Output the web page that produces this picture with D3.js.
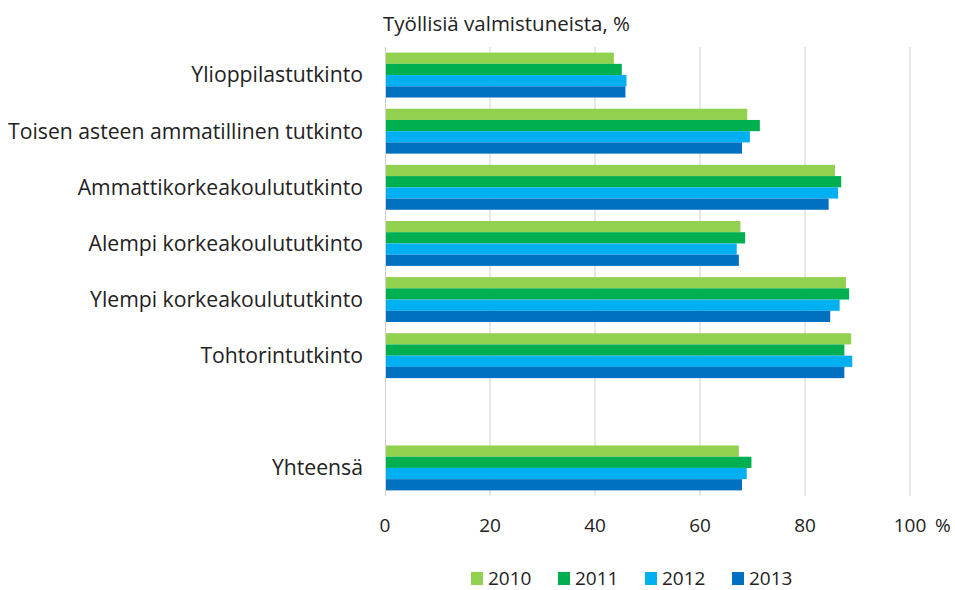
<!DOCTYPE html>
<html>
<head>
<meta charset="utf-8">
<script src="https://cdn.jsdelivr.net/npm/d3@7"></script>
<style>
  body { margin: 0; background: #fff; }
  svg text { font-family: "Open Sans", "Noto Sans", sans-serif; fill: #222; }
</style>
</head>
<body>
<div id="chart"></div>
<script>
var categories = ['Ylioppilastutkinto', 'Toisen asteen ammatillinen tutkinto', 'Ammattikorkeakoulututkinto',
                  'Alempi korkeakoulututkinto', 'Ylempi korkeakoulututkinto', 'Tohtorintutkinto', '', 'Yhteensä'];
var years = ['2010', '2011', '2012', '2013'];
var colors = ['#92d050', '#00b050', '#00b0f0', '#0070c0'];
var v2010 = [43.6, 69.0, 85.7, 67.7, 87.8, 88.8, null, 67.4];
var v2011 = [45.1, 71.4, 86.9, 68.6, 88.4, 87.5, null, 69.8];
var v2012 = [46.0, 69.5, 86.3, 67.0, 86.6, 89.0, null, 68.9];
var v2013 = [45.8, 68.0, 84.5, 67.4, 84.8, 87.5, null, 68.0];
var series = [v2010, v2011, v2012, v2013];
var xTicks = [0, 20, 40, 60, 80, 100];

var width = 955, height = 590;
var plotLeft = 385, plotRight = 910, plotTop = 47, plotBottom = 496;

var svg = d3.select("#chart").append("svg")
    .attr("width", width)
    .attr("height", height);

var x = d3.scaleLinear().domain([0, 100]).range([plotLeft, plotRight]);
var y = d3.scaleBand().domain(d3.range(categories.length)).range([plotTop, plotBottom]).paddingInner(0.2).paddingOuter(0.1);
var y1 = d3.scaleBand().domain(d3.range(years.length)).range([0, y.bandwidth()]);

// gridlines
svg.append("g").selectAll("line")
    .data(xTicks.slice(1))
    .enter().append("line")
    .attr("x1", function(d) { return x(d); })
    .attr("x2", function(d) { return x(d); })
    .attr("y1", plotTop)
    .attr("y2", plotBottom)
    .attr("stroke", "#d0d0d0")
    .attr("stroke-width", 1);

// bars
var groups = svg.append("g").selectAll("g")
    .data(categories)
    .enter().append("g")
    .attr("transform", function(d, i) { return "translate(0," + y(i) + ")"; });

groups.selectAll("rect")
    .data(function(d, i) { return series.map(function(s, k) { return { k: k, v: s[i] }; }).filter(function(e) { return e.v != null; }); })
    .enter().append("rect")
    .attr("x", x(0))
    .attr("y", function(d) { return y1(d.k); })
    .attr("width", function(d) { return x(d.v) - x(0); })
    .attr("height", y1.bandwidth())
    .attr("fill", function(d) { return colors[d.k]; });

// y axis line
svg.append("line")
    .attr("x1", x(0) + 0.5).attr("x2", x(0) + 0.5)
    .attr("y1", plotTop).attr("y2", plotBottom)
    .attr("stroke", "#d0d0d0");

// category labels
svg.append("g").selectAll("text")
    .data(categories)
    .enter().append("text")
    .attr("x", plotLeft - 22)
    .attr("y", function(d, i) { return y(i) + y.bandwidth() / 2; })
    .attr("dy", "0.35em")
    .attr("text-anchor", "end")
    .attr("font-size", 21.2)
    .text(function(d) { return d; });

// x tick labels
svg.append("g").selectAll("text")
    .data(xTicks)
    .enter().append("text")
    .attr("x", function(d) { return x(d); })
    .attr("y", 532)
    .attr("text-anchor", "middle")
    .attr("font-size", 19)
    .text(function(d) { return d; });

svg.append("text")
    .attr("x", x(100) + 25)
    .attr("y", 532)
    .attr("font-size", 19)
    .text("%");

// title
svg.append("text")
    .attr("x", 383)
    .attr("y", 31)
    .attr("font-size", 20.5)
    .text("Työllisiä valmistuneista, %");

// legend
var legend = svg.append("g").selectAll("g")
    .data(years)
    .enter().append("g")
    .attr("transform", function(d, i) { return "translate(" + (471 + i * 87) + ",572)"; });
legend.append("rect")
    .attr("width", 12).attr("height", 13)
    .attr("fill", function(d, i) { return colors[i]; });
legend.append("text")
    .attr("x", 17).attr("y", 13)
    .attr("font-size", 19)
    .text(function(d) { return d; });
</script>
</body>
</html>
